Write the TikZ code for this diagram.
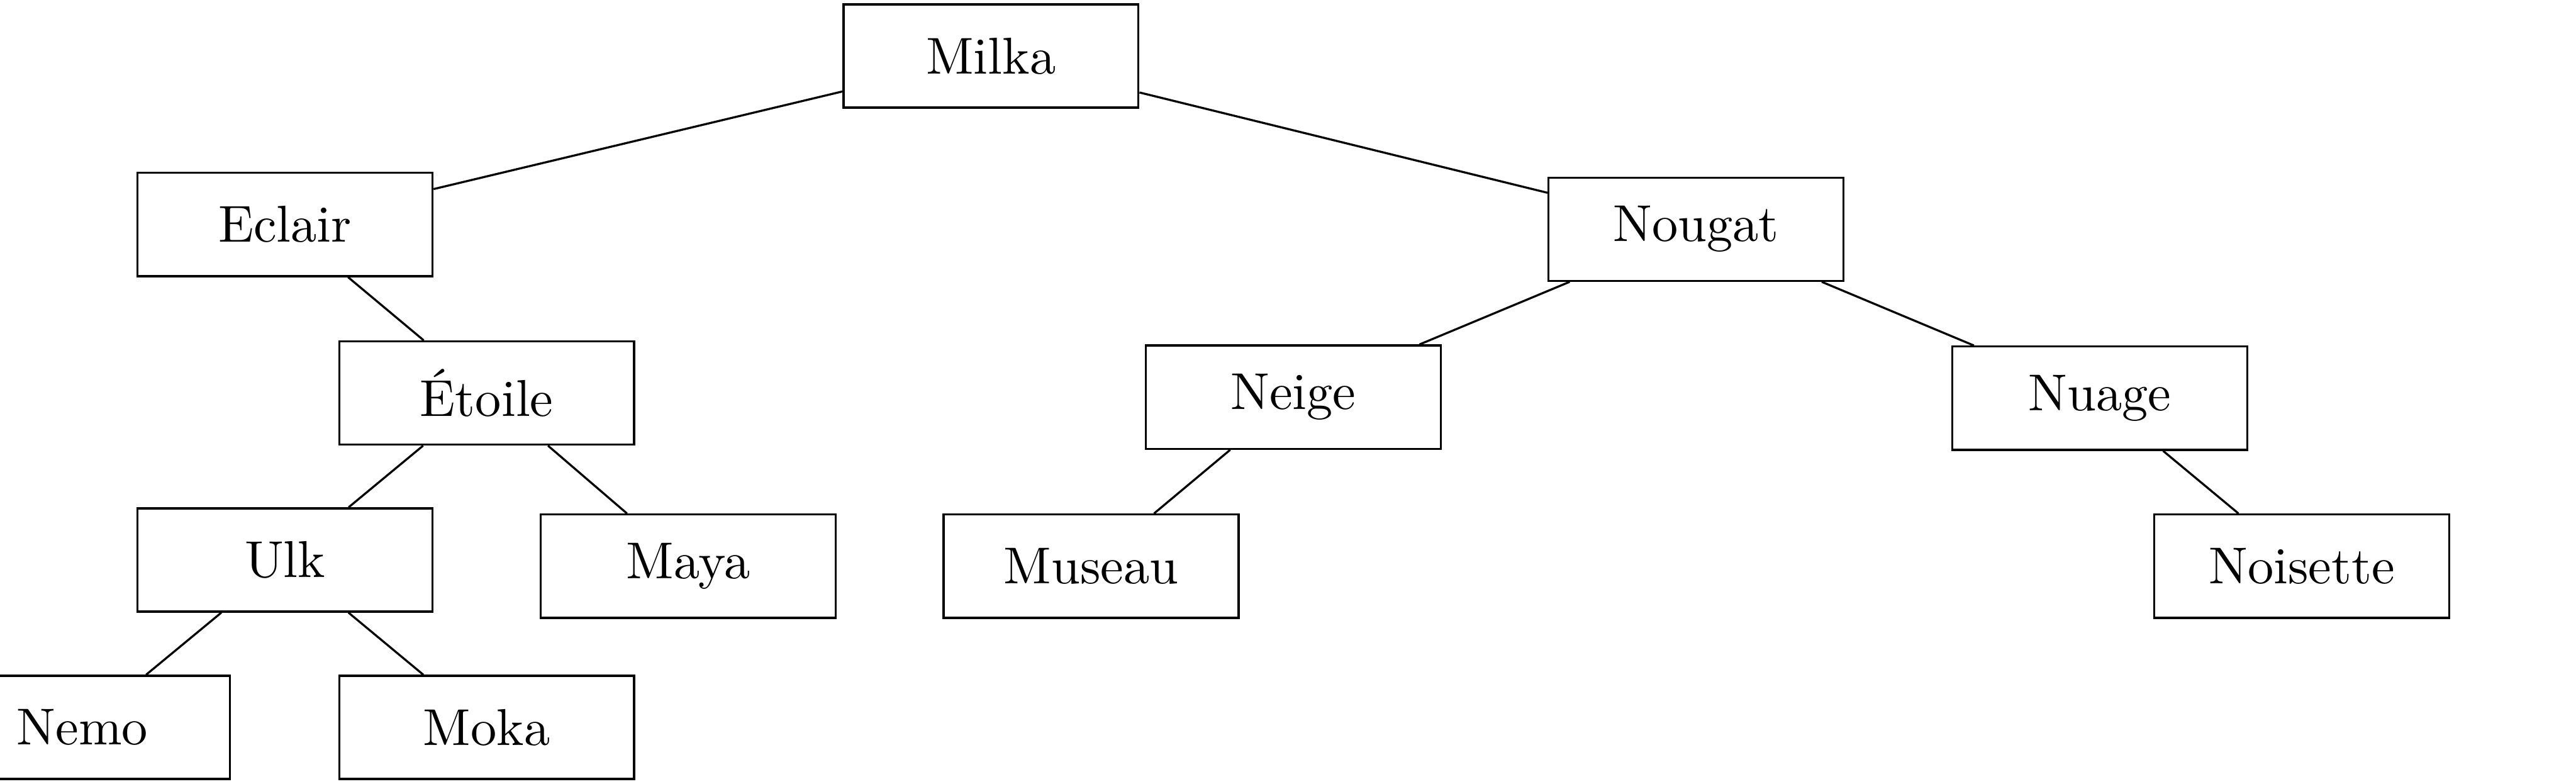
\documentclass[tikz,border=0pt]{standalone}
\begin{document}
\begin{tikzpicture}[
  treenode/.style={draw, rectangle, minimum width=2cm, minimum height=0.7cm, line width=0.4pt},
  edge/.style={line width=0.4pt}
]
\clip (0pt,0pt) rectangle (497pt,-151.1pt);
\useasboundingbox (0pt,0pt) rectangle (497pt,-151.1pt);
\node[treenode] (milka)    at (191.2pt,-10.8pt)  {Milka};
\node[treenode] (eclair)   at (55.0pt,-43.3pt)   {Eclair};
\node[treenode] (nougat)   at (327.2pt,-44.2pt)  {Nougat};
\node[treenode] (etoile)   at (93.9pt,-75.8pt)   {Étoile};
\node[treenode] (neige)    at (249.5pt,-76.6pt)  {Neige};
\node[treenode] (nuage)    at (405.1pt,-76.8pt)  {Nuage};
\node[treenode] (ulk)      at (55.0pt,-108.0pt)  {Ulk};
\node[treenode] (maya)     at (132.8pt,-109.2pt) {Maya};
\node[treenode] (museau)   at (210.5pt,-109.2pt) {Museau};
\node[treenode] (noisette) at (444.1pt,-109.2pt) {Noisette};
\node[treenode] (nemo)     at (15.9pt,-140.3pt)  {Nemo};
\node[treenode] (moka)     at (93.9pt,-140.3pt)  {Moka};
\draw[edge] (milka) -- (eclair);
\draw[edge] (milka) -- (nougat);
\draw[edge] (eclair) -- (etoile);
\draw[edge] (etoile) -- (ulk);
\draw[edge] (etoile) -- (maya);
\draw[edge] (ulk) -- (nemo);
\draw[edge] (ulk) -- (moka);
\draw[edge] (nougat) -- (neige);
\draw[edge] (nougat) -- (nuage);
\draw[edge] (neige) -- (museau);
\draw[edge] (nuage) -- (noisette);
\end{tikzpicture}
\end{document}
